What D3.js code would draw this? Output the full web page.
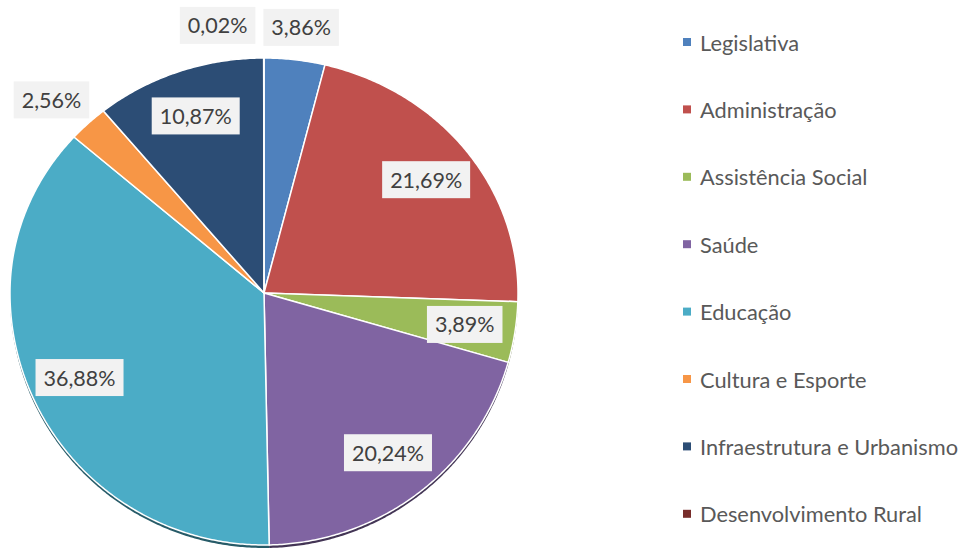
<!DOCTYPE html>
<html>
<head>
<meta charset="utf-8">
<script src="https://cdn.jsdelivr.net/npm/d3@7"></script>
<style>
  body { margin: 0; background: #fff; }
  svg { display: block; font-family: Lato, "Open Sans", sans-serif; }
</style>
</head>
<body>
<div id="chart"></div>
<script>
// ----------------------------------------------------------
// Datos
// ----------------------------------------------------------
const categories = ["Legislativa", "Administração", "Assistência Social", "Saúde",
                    "Educação", "Cultura e Esporte", "Infraestrutura e Urbanismo", "Desenvolvimento Rural"];
const values = [3.86, 21.69, 3.89, 20.24, 36.88, 2.56, 10.87, 0.02];
const colours = ["#4F81BD", "#C0504D", "#9BBB59", "#8064A2", "#4BACC6", "#F79646", "#2C4D75", "#772C2A"];

// ----------------------------------------------------------
const width = 967;
const height = 552;

// pie ligeramente en perspectiva (como el de Excel)
const cx = 264, cy = 293;
const rx = 254, ryTop = 235, ryBot = 252;

const fmt = v => d3.format(".2f")(v).replace(".", ",") + "%";

function proj(a, k) {
    const c = Math.cos(a);
    return [cx + rx * k * Math.sin(a), cy - (c >= 0 ? ryTop : ryBot) * k * c];
}

function slicePoints(d) {
    let pts = [[cx, cy]];
    const step = Math.PI / 360;
    for (let a = d.startAngle; a < d.endAngle; a += step) pts.push(proj(a, 1));
    pts.push(proj(d.endAngle, 1));
    return pts;
}

const svg = d3.select("#chart").append("svg")
    .attr("width", width)
    .attr("height", height);

const pie = d3.pie().sort(null).value(d => d);
const arcs = pie(values);
const line = d3.line().curve(d3.curveLinearClosed);

// borde oscuro inferior
const rimGroup = svg.append("g").attr("transform", "translate(0,3)");
rimGroup.selectAll("path").data(arcs).enter().append("path")
    .attr("d", d => line(slicePoints(d)))
    .attr("fill", (d, i) => d3.color(colours[i]).darker(1.8));

// porciones
const sliceGroup = svg.append("g");
sliceGroup.selectAll("path").data(arcs).enter().append("path")
    .attr("d", d => line(slicePoints(d)))
    .attr("fill", (d, i) => colours[i])
    .attr("stroke", "#fff")
    .attr("stroke-width", 1.5)
    .attr("stroke-linejoin", "round");

// etiquetas
const labelGroup = svg.append("g");
const boxH = 37, padX = 8;
let placed = [];
arcs.forEach((d, i) => {
    const g = labelGroup.append("g");
    const rect = g.append("rect").attr("fill", "#F2F2F2");
    const text = g.append("text")
        .attr("text-anchor", "middle")
        .attr("dominant-baseline", "central")
        .attr("font-size", 21.5)
        .attr("fill", "#404040")
        .text(fmt(values[i]));
    const w = text.node().getBBox().width + 2 * padX;
    const mid = (d.startAngle + d.endAngle) / 2;
    // cabe dentro?
    const room = 0.8 * rx * (d.endAngle - d.startAngle);
    const need = w * Math.abs(Math.cos(mid)) + boxH * Math.abs(Math.sin(mid));
    const inside = room >= need;
    let x, y;
    if (inside) {
        [x, y] = proj(mid, 0.8);
    } else {
        const a = proj(mid, 1.06);
        x = a[0] + Math.sin(mid) * w / 2;
        y = a[1] - Math.cos(mid) * boxH / 2;
    }
    // evitar solapes con etiquetas externas ya colocadas
    placed.forEach(p => {
        if (Math.abs(p.y - y) < boxH && Math.abs(p.x - x) < (p.w + w) / 2 + 8) {
            x = p.x - (p.w + w) / 2 - 8;
        }
    });
    if (!inside) placed.push({x, y, w});
    g.attr("transform", `translate(${x},${y})`);
    rect.attr("x", -w / 2).attr("y", -boxH / 2).attr("width", w).attr("height", boxH);
});

// leyenda
const legend = svg.append("g").attr("transform", "translate(683,42)");
const legendItems = legend.selectAll("g").data(categories).enter().append("g")
    .attr("transform", (d, i) => `translate(0, ${i * 67.4})`);
legendItems.append("rect")
    .attr("x", 0).attr("y", -4)
    .attr("width", 8).attr("height", 8)
    .attr("fill", (d, i) => colours[i]);
legendItems.append("text")
    .attr("x", 17)
    .attr("dominant-baseline", "central")
    .attr("font-size", 21.8)
    .attr("fill", "#595959")
    .text(d => d);
</script>
</body>
</html>
